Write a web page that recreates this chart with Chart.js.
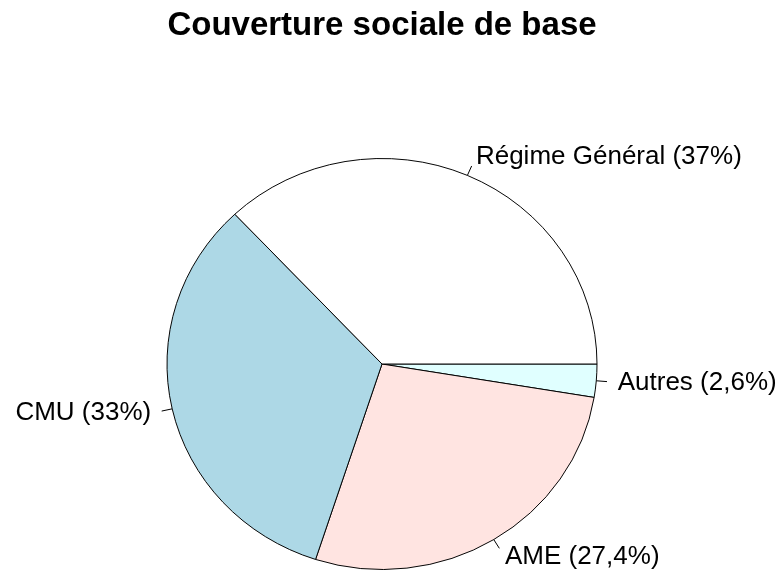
<!DOCTYPE html>
<html>
<head>
<meta charset="utf-8">
<script src="https://cdn.jsdelivr.net/npm/chart.js@4/dist/chart.umd.min.js"></script>
<style>
  html, body { margin: 0; padding: 0; background: #fff; }
  #wrap { width: 779px; height: 572px; }
</style>
</head>
<body>
<div id="wrap"><canvas id="pie"></canvas></div>
<script>
// data, in the order R draws it (counter-clockwise from 3 o'clock)
const categories = ["Régime Général", "CMU", "AME", "Autres"];
const shares = [37, 33, 27.4, 2.6];
const shareLabels = ["37%", "33%", "27,4%", "2,6%"];
const sliceColors = ["#FFFFFF", "#ADD8E6", "#FFE4E1", "#E0FFFF"];

const SY = 205.5 / 215; // the reference pie is slightly squashed vertically

// Chart.js goes clockwise, so reverse everything
const order = categories.map((_, i) => i).reverse();

const ellipse = {
  id: "ellipse",
  beforeDatasetsDraw(chart) {
    const arc = chart.getDatasetMeta(0).data[0];
    const ctx = chart.ctx;
    ctx.save();
    ctx.translate(arc.x, arc.y);
    ctx.scale(1, SY);
    ctx.translate(-arc.x, -arc.y);
  },
  afterDatasetsDraw(chart) {
    const ctx = chart.ctx;
    ctx.restore();

    // R style labels: tick from r to 1.05r, text at 1.1r
    ctx.save();
    ctx.font = "26px 'Liberation Sans', Arial, sans-serif";
    ctx.fillStyle = "#000";
    ctx.strokeStyle = "#000";
    ctx.lineWidth = 1;
    ctx.textBaseline = "middle";
    chart.getDatasetMeta(0).data.forEach((arc, i) => {
      const mid = (arc.startAngle + arc.endAngle) / 2;
      const r = arc.outerRadius;
      const c = Math.cos(mid), s = Math.sin(mid);
      ctx.beginPath();
      ctx.moveTo(arc.x + c * r, arc.y + s * r * SY);
      ctx.lineTo(arc.x + c * r * 1.05, arc.y + s * r * 1.05 * SY);
      ctx.stroke();
      ctx.textAlign = c >= 0 ? "left" : "right";
      ctx.fillText(chart.data.labels[i], arc.x + c * r * 1.1, arc.y + s * r * 1.1 * SY);
    });
    ctx.restore();
  }
};

new Chart(document.getElementById("pie"), {
  type: "pie",
  data: {
    labels: order.map((i) => categories[i] + " (" + shareLabels[i] + ")"),
    datasets: [
      {
        data: order.map((i) => shares[i]),
        backgroundColor: order.map((i) => sliceColors[i]),
        borderColor: "#000",
        borderWidth: 1,
        radius: 215,
        clip: false,
        hoverOffset: 0,
      },
    ],
  },
  options: {
    responsive: true,
    maintainAspectRatio: false,
    animation: false,
    rotation: 90,
    layout: { padding: { left: 0, right: 15, top: 0, bottom: 0 } },
    plugins: {
      legend: { display: false },
      tooltip: { enabled: false },
      title: {
        display: true,
        text: "Couverture sociale de base",
        color: "#000",
        font: { family: "'Liberation Sans', Arial, sans-serif", size: 33, weight: "bold" },
        padding: { top: 6.2, bottom: 110.2 },
      },
    },
  },
  plugins: [ellipse],
});
</script>
</body>
</html>
